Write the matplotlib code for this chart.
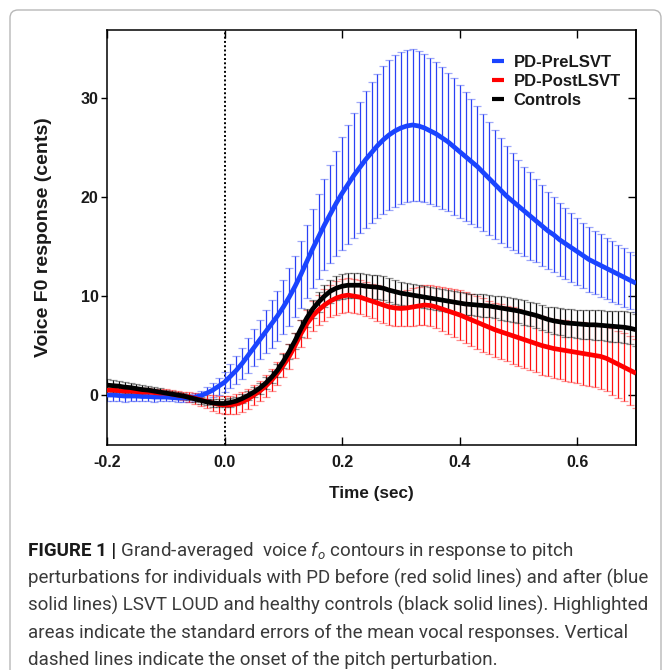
import numpy as np
import matplotlib
matplotlib.use("Agg")
import matplotlib.pyplot as plt
from matplotlib import font_manager
from matplotlib.patches import FancyBboxPatch

# ---------------- data ----------------
time_s = np.round(np.arange(-0.20, 0.7001, 0.01), 2)

pre_mean = [0.0, 0.0, -0.05, -0.1, -0.1, -0.1, -0.15, -0.15, -0.2, -0.2,
            -0.2, -0.25, -0.3, -0.3, -0.3, -0.2, -0.05, 0.2, 0.5, 0.9,
            1.3, 1.9, 2.5, 3.2, 4.0, 4.8, 5.6, 6.4, 7.2, 8.0,
            8.9, 9.9, 11.0, 12.2, 13.5, 14.8, 16.0, 17.2, 18.3, 19.4,
            20.4, 21.3, 22.2, 23.0, 23.8, 24.5, 25.2, 25.8, 26.3, 26.7,
            27.0, 27.2, 27.3, 27.2, 27.0, 26.7, 26.4, 26.0, 25.6, 25.1,
            24.6, 24.1, 23.6, 23.1, 22.5, 21.9, 21.3, 20.7, 20.1, 19.6,
            19.1, 18.6, 18.1, 17.6, 17.1, 16.6, 16.2, 15.7, 15.3, 14.9,
            14.5, 14.1, 13.7, 13.4, 13.1, 12.8, 12.5, 12.2, 11.9, 11.6,
            11.3]
pre_se = [0.6, 0.6, 0.6, 0.6, 0.55, 0.55, 0.5, 0.5, 0.5, 0.45,
          0.45, 0.4, 0.4, 0.4, 0.4, 0.45, 0.5, 0.6, 0.7, 0.85,
          1.0, 1.2, 1.4, 1.6, 1.8, 1.9, 2.0, 2.2, 2.4, 2.5,
          2.7, 2.9, 3.1, 3.4, 3.7, 4.0, 4.3, 4.6, 5.0, 5.3,
          5.7, 6.0, 6.3, 6.6, 6.9, 7.1, 7.3, 7.5, 7.6, 7.7,
          7.7, 7.7, 7.7, 7.6, 7.5, 7.4, 7.3, 7.2, 7.0, 6.9,
          6.7, 6.5, 6.3, 6.1, 5.9, 5.7, 5.5, 5.3, 5.1, 4.9,
          4.7, 4.5, 4.4, 4.2, 4.1, 3.9, 3.8, 3.7, 3.6, 3.5,
          3.4, 3.3, 3.3, 3.2, 3.2, 3.1, 3.1, 3.0, 3.0, 2.9,
          2.9]

post_mean = [0.5, 0.5, 0.45, 0.4, 0.4, 0.35, 0.3, 0.3, 0.25, 0.2,
             0.2, 0.1, 0.0, -0.1, -0.2, -0.35, -0.5, -0.65, -0.8, -0.95,
             -1.0, -1.0, -0.9, -0.7, -0.4, 0.0, 0.4, 0.9, 1.5, 2.2,
             3.0, 3.9, 5.0, 6.2, 7.2, 8.0, 8.6, 9.1, 9.5, 9.8,
             10.0, 10.1, 10.0, 9.9, 9.7, 9.5, 9.3, 9.1, 8.9, 8.8,
             8.75, 8.8, 8.9, 9.0, 9.1, 9.05, 8.9, 8.7, 8.5, 8.3,
             8.1, 7.85, 7.6, 7.35, 7.1, 6.85, 6.6, 6.4, 6.2, 6.0,
             5.8, 5.6, 5.4, 5.2, 5.0, 4.85, 4.7, 4.6, 4.5, 4.4,
             4.3, 4.2, 4.1, 4.0, 3.9, 3.7, 3.4, 3.1, 2.8, 2.5,
             2.2]
post_se = [0.5, 0.5, 0.45, 0.45, 0.4, 0.4, 0.4, 0.4, 0.4, 0.4,
           0.4, 0.4, 0.4, 0.45, 0.5, 0.55, 0.6, 0.7, 0.8, 0.85,
           0.9, 0.95, 1.0, 1.0, 1.0, 1.0, 1.05, 1.1, 1.1, 1.15,
           1.2, 1.25, 1.3, 1.35, 1.4, 1.5, 1.55, 1.6, 1.65, 1.7,
           1.7, 1.7, 1.7, 1.7, 1.75, 1.75, 1.8, 1.8, 1.8, 1.8,
           1.8, 1.85, 1.9, 1.95, 2.0, 2.05, 2.1, 2.2, 2.3, 2.4,
           2.5, 2.55, 2.6, 2.65, 2.7, 2.7, 2.75, 2.8, 2.8, 2.85,
           2.85, 2.9, 2.9, 2.9, 2.95, 2.95, 3.0, 3.0, 3.05, 3.1,
           3.1, 3.15, 3.2, 3.2, 3.25, 3.3, 3.35, 3.4, 3.45, 3.5,
           3.5]

ctrl_mean = [1.0, 0.95, 0.9, 0.8, 0.75, 0.65, 0.55, 0.5, 0.4, 0.3,
             0.2, 0.1, 0.0, -0.1, -0.25, -0.4, -0.55, -0.7, -0.8, -0.85,
             -0.85, -0.75, -0.6, -0.35, -0.05, 0.3, 0.7, 1.2, 1.8, 2.5,
             3.4, 4.4, 5.5, 6.7, 7.8, 8.7, 9.4, 10.0, 10.5, 10.8,
             11.0, 11.1, 11.1, 11.1, 11.0, 10.95, 10.9, 10.8, 10.6, 10.45,
             10.3, 10.2, 10.1, 10.0, 9.9, 9.8, 9.7, 9.6, 9.5, 9.4,
             9.3, 9.2, 9.15, 9.1, 9.05, 9.0, 8.9, 8.8, 8.7, 8.6,
             8.5, 8.35, 8.2, 8.05, 7.85, 7.65, 7.5, 7.4, 7.3, 7.25,
             7.2, 7.15, 7.1, 7.1, 7.05, 7.0, 6.95, 6.9, 6.85, 6.75,
             6.6]
ctrl_se = [0.6, 0.6, 0.55, 0.55, 0.5, 0.5, 0.45, 0.45, 0.4, 0.4,
           0.35, 0.35, 0.3, 0.3, 0.3, 0.3, 0.35, 0.35, 0.4, 0.4,
           0.4, 0.45, 0.45, 0.5, 0.5, 0.5, 0.55, 0.6, 0.6, 0.65,
           0.7, 0.75, 0.8, 0.85, 0.9, 0.95, 1.0, 1.1, 1.15, 1.2,
           1.25, 1.25, 1.25, 1.25, 1.25, 1.2, 1.2, 1.2, 1.2, 1.2,
           1.15, 1.15, 1.1, 1.1, 1.1, 1.1, 1.1, 1.1, 1.1, 1.1,
           1.1, 1.1, 1.1, 1.1, 1.15, 1.15, 1.15, 1.2, 1.2, 1.2,
           1.2, 1.25, 1.25, 1.3, 1.3, 1.3, 1.35, 1.35, 1.4, 1.4,
           1.4, 1.45, 1.45, 1.5, 1.5, 1.5, 1.55, 1.55, 1.6, 1.6,
           1.6]

series_labels = ["PD-PreLSVT", "PD-PostLSVT", "Controls"]
x_ticks = [-0.2, 0.0, 0.2, 0.4, 0.6]
x_ticklabels = ["-0.2", "0.0", "0.2", "0.4", "0.6"]
y_ticks = [0, 10, 20, 30]

caption_bold = "FIGURE 1 |"
caption_lines = [
    r" Grand-averaged  voice $f_o$ contours in response to pitch",
    "perturbations for individuals with PD before (red solid lines) and after (blue",
    "solid lines) LSVT LOUD and healthy controls (black solid lines). Highlighted",
    "areas indicate the standard errors of the mean vocal responses. Vertical",
    "dashed lines indicate the onset of the pitch perturbation.",
]

# ---------------- fonts ----------------
ttf = font_manager.fontManager.ttflist
names = {f.name for f in ttf}
cap_font = "Liberation Sans Narrow" if "Liberation Sans Narrow" in names else "Roboto"
plt.rcParams["font.family"] = ["Liberation Sans", "DejaVu Sans"]
plt.rcParams["mathtext.fontset"] = "custom"
plt.rcParams["mathtext.it"] = cap_font + ":italic"
plt.rcParams["mathtext.rm"] = cap_font

W, H = 670, 670
fig = plt.figure(figsize=(6.7, 6.7), dpi=100)

# outer rounded frame
frame = FancyBboxPatch((10 / W, -0.05), (661 - 10) / W, (H - 10) / H + 0.05,
                       boxstyle="round,pad=0,rounding_size=0.012",
                       transform=fig.transFigure, fill=False,
                       edgecolor="#b8b8b8", linewidth=1.0)
fig.patches.append(frame)

ax_l, ax_r, ax_t, ax_b = 107, 636, 30, 445
ax = fig.add_axes([ax_l / W, 1 - ax_b / H, (ax_r - ax_l) / W, (ax_b - ax_t) / H])

colors = {"PD-PreLSVT": ("#1a44ff", "#2a40f5"),
          "PD-PostLSVT": ("#ff0000", "#ff1010"),
          "Controls": ("#000000", "#111111")}
data = [(pre_mean, pre_se), (post_mean, post_se), (ctrl_mean, ctrl_se)]

for lab, (m, s) in zip(series_labels, data):
    lc, bc = colors[lab]
    eb = ax.errorbar(time_s, m, yerr=s, fmt="none", ecolor=bc, elinewidth=0.9,
                     capsize=3.0, capthick=0.9, zorder=2)
    for c in eb[1]:
        c.set_alpha(0.45)
    ax.plot(time_s, m, color=lc, lw=3.4, solid_capstyle="butt", zorder=3, label=lab)

ax.axvline(0.0, color="black", lw=1.4, ls=(0, (1.0, 1.2)), zorder=1)

ax.set_xlim(-0.2, 0.7)
ax.set_ylim(-5.05, 36.9)
ax.set_xticks(x_ticks)
ax.set_xticklabels(x_ticklabels)
ax.set_yticks(y_ticks)

for sp in ax.spines.values():
    sp.set_linewidth(1.1)
ax.tick_params(axis="x", which="both", direction="in", top=True, bottom=True,
               length=6, width=1.0, pad=7, labelsize=11.5)
ax.tick_params(axis="y", which="both", direction="out", left=True, right=False,
               length=4, width=1.0, pad=2, labelsize=11.5)
for t in ax.get_xticklabels() + ax.get_yticklabels():
    t.set_fontweight("bold")
    t.set_color("#1a1a1a")

sec = ax.secondary_yaxis("right")
sec.set_yticks(y_ticks)
sec.tick_params(direction="in", length=6, width=1.0, labelright=False)
sec.spines["right"].set_linewidth(1.1)

ax.set_xlabel("Time (sec)", fontsize=12.3, fontweight="bold", color="#1a1a1a")
ax.xaxis.set_label_coords(0.5, -0.098)
ax.xaxis.label.set_va("top")
ax.set_ylabel("Voice F0 response (cents)", fontsize=14, fontweight="bold", color="#1a1a1a")
ax.yaxis.set_label_coords(-0.104, 0.5)

leg = ax.legend(loc="upper right", bbox_to_anchor=(0.99, 0.965), frameon=False,
                prop={"weight": "bold", "size": 12}, handlelength=0.75,
                handletextpad=0.55, labelspacing=0.26, borderaxespad=0.2)
for h in leg.get_lines():
    h.set_linewidth(3.0)
for txt in leg.get_texts():
    txt.set_color("#1a1a1a")

# ---------------- caption ----------------
cap_size = 13.5
x0 = 28 / W
baselines = [556, 583.5, 611, 638.5, 665]
fam = [cap_font, "DejaVu Sans"]
tb = fig.text(x0, 1 - baselines[0] / H, caption_bold, fontsize=cap_size, fontweight="bold",
              family=fam, color="#1a1a1a", va="baseline", ha="left")
fig.canvas.draw()
bb = tb.get_window_extent()
fig.text(bb.x1 / W, 1 - baselines[0] / H, caption_lines[0], fontsize=cap_size,
         family=fam, color="#3a3a3a", va="baseline", ha="left")
for ln, yy in zip(caption_lines[1:], baselines[1:]):
    fig.text(x0, 1 - yy / H, ln, fontsize=cap_size, family=fam,
             color="#3a3a3a", va="baseline", ha="left")

fig.savefig("out.png", dpi=100)
